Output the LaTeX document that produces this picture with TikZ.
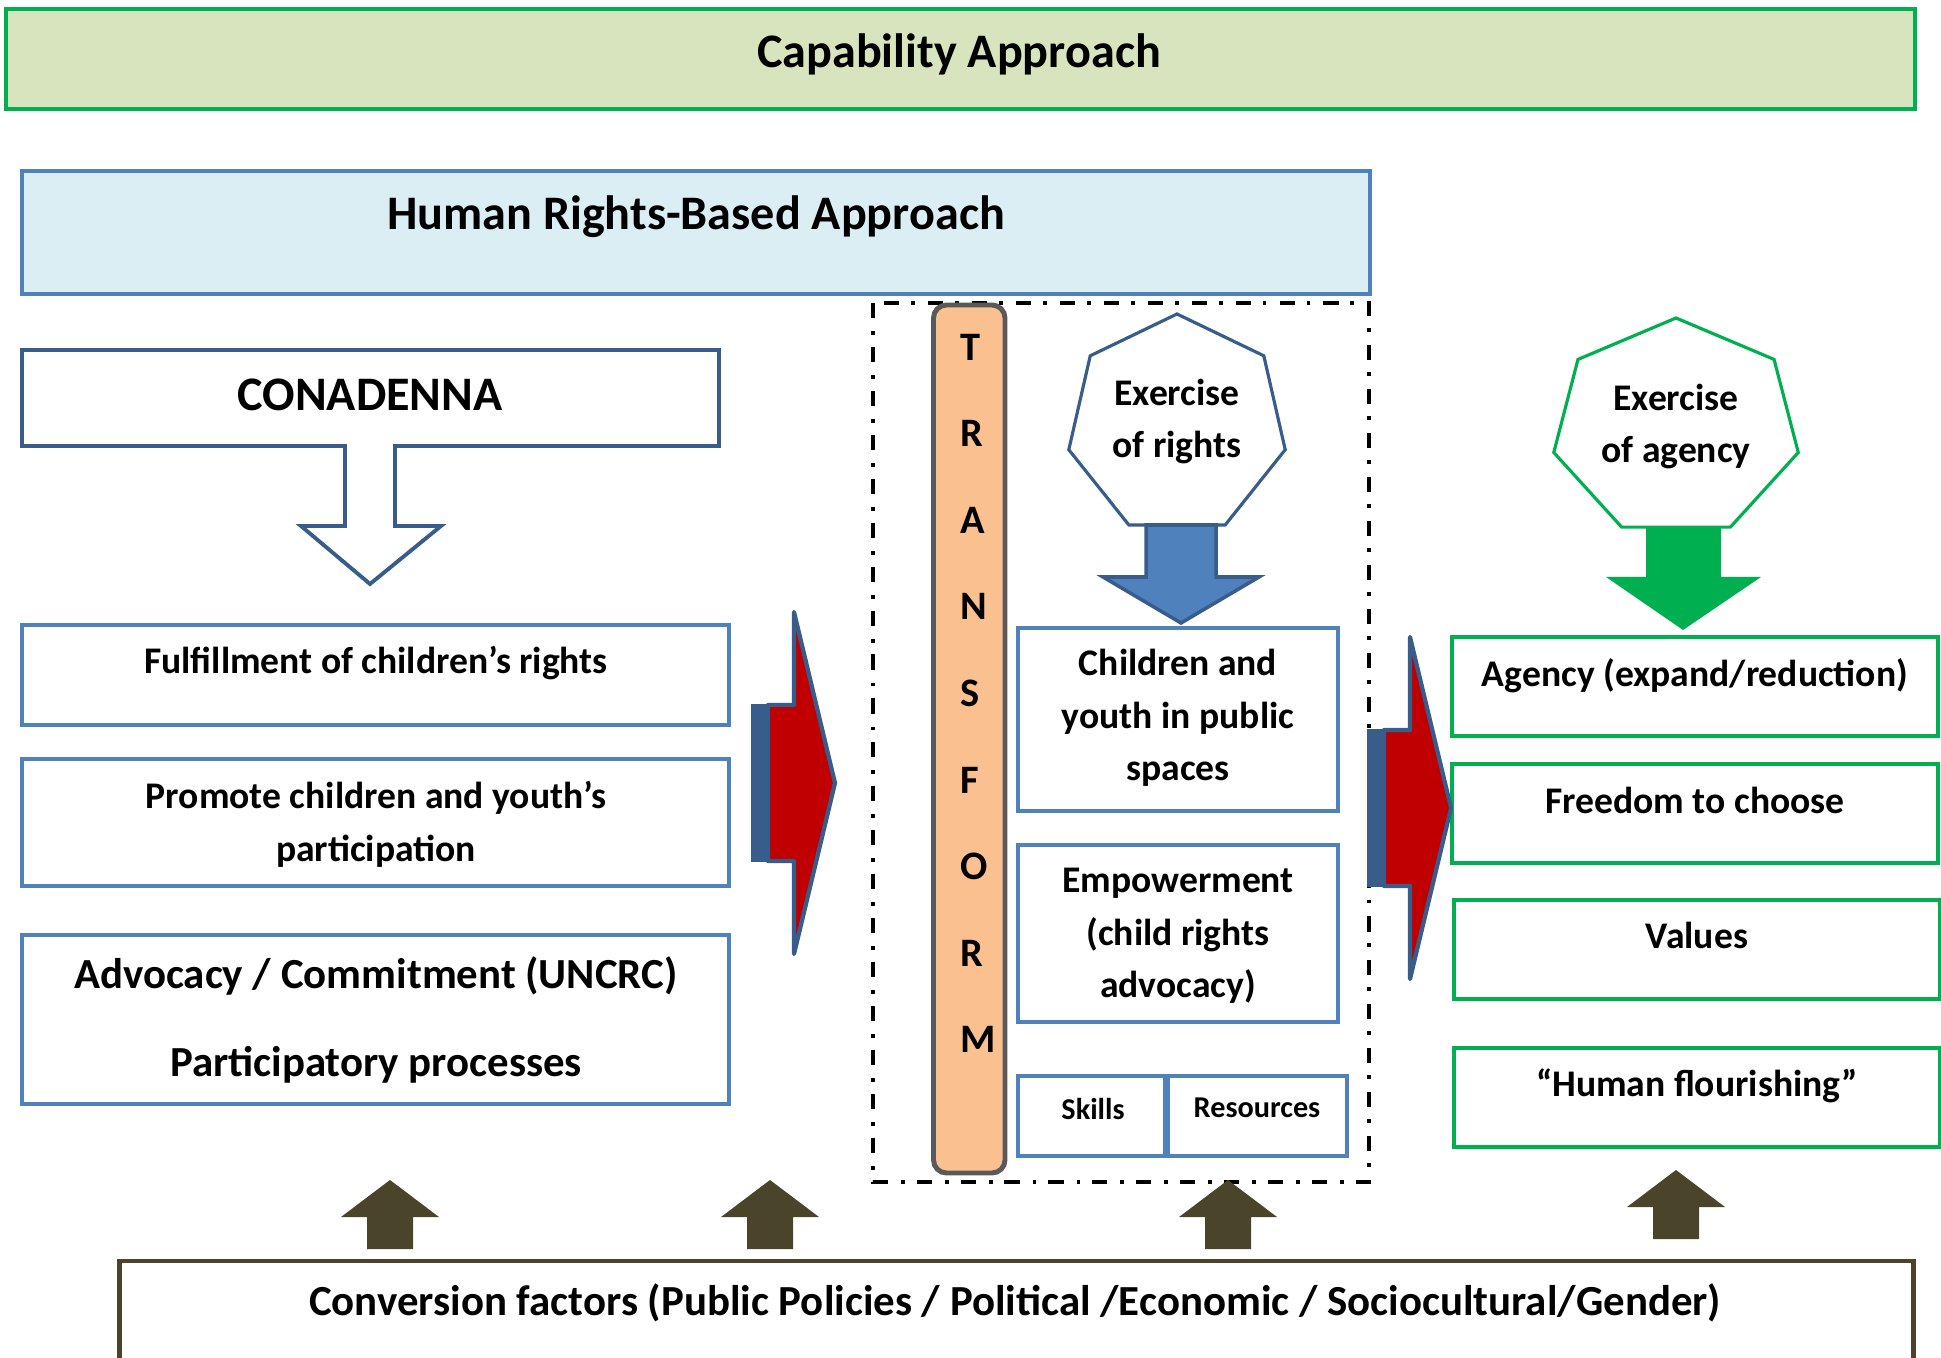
\documentclass[tikz,border=0pt]{standalone}
\usepackage{fontspec}
\setmainfont{Carlito}
\usepackage{tikz}

\definecolor{capfill}{HTML}{D7E4BD}
\definecolor{capgreen}{HTML}{00B050}
\definecolor{hrbfill}{HTML}{DBEEF4}
\definecolor{boxblue}{HTML}{4F81BD}
\definecolor{darkblue}{HTML}{385D8A}
\definecolor{arrowred}{HTML}{C00000}
\definecolor{barfill}{HTML}{FAC090}
\definecolor{bargray}{HTML}{595959}
\definecolor{factor}{HTML}{4A452A}

\begin{document}
\begin{tikzpicture}[
    box/.style={rectangle, anchor=north west, inner sep=0pt, outer sep=0pt},
    bluebox/.style={box, draw=boxblue, line width=1.1pt},
    greenbox/.style={box, draw=capgreen, line width=1.1pt, minimum width=4.86cm, minimum height=0.99cm},
    headtxt/.style={inner sep=0pt, font=\fontsize{13.7}{16}\selectfont\bfseries},
    bodytxt/.style={inner sep=0pt, align=center, font=\fontsize{10.7}{15}\selectfont\bfseries},
    smalltxt/.style={inner sep=0pt, font=\fontsize{8.6}{10}\selectfont\bfseries},
    bartxt/.style={inner sep=0pt, anchor=west, font=\fontsize{11.5}{12}\selectfont\bfseries},
    hept/.style={line width=0.9pt, fill=white},
    redarrow/.style={draw=darkblue, fill=arrowred, line width=1.2pt, line join=round},
    dashframe/.style={line width=0.95pt, dash pattern=on 4.3pt off 3.7pt on 1.1pt off 3.4pt}
]
\useasboundingbox (0,0) rectangle (19.41,-13.58);
\clip (0,0) rectangle (19.41,-13.58);

% Top bands
\node[box, draw=capgreen, fill=capfill, line width=1.25pt, minimum width=19.09cm, minimum height=1.0cm] (cap) at (0.06,-0.09) {};
\node[headtxt] (cap-t) at (9.59,-0.545) {Capability Approach};

\node[box, draw=boxblue, fill=hrbfill, line width=1.4pt, minimum width=13.48cm, minimum height=1.23cm] (hrb) at (0.22,-1.71) {};
\node[headtxt] (hrb-t) at (6.96,-2.17) {Human Rights-Based Approach};

% CONADENNA with its hollow arrow
\draw[darkblue, line width=1.1pt] (0.22,-3.50) -- (7.19,-3.50) -- (7.19,-4.46) -- (3.95,-4.46) -- (3.95,-5.26)
    -- (4.41,-5.26) -- (3.70,-5.84) -- (3.01,-5.26) -- (3.45,-5.26) -- (3.45,-4.46) -- (0.22,-4.46) -- cycle;
\node[headtxt] (con) at (3.70,-3.95) {CONADENNA};

% Left column
\node[bluebox, minimum width=7.07cm, minimum height=1.0cm] (ful) at (0.22,-6.25) {};
\node[bodytxt] (ful-t) at (3.76,-6.635) {Fulfillment of children's rights};

\node[bluebox, minimum width=7.07cm, minimum height=1.27cm] (pro) at (0.22,-7.59) {};
\node[bodytxt] (pro-t) at (3.76,-8.24) {Promote children and youth's\\participation};

\node[bluebox, minimum width=7.07cm, minimum height=1.69cm] (adv) at (0.22,-9.35) {};
\node[bodytxt, font=\fontsize{12.2}{25}\selectfont\bfseries] (adv-t) at (3.76,-10.2) {Advocacy / Commitment (UNCRC)\\Participatory processes};

% Transform frame
\draw[dashframe] (8.73,-3.03) rectangle (13.69,-11.82);
\draw[fill=barfill, draw=bargray, line width=1.4pt, rounded corners=0.13cm] (9.335,-3.05) rectangle (10.05,-11.73);
\foreach \c [count=\i] in {T,R,A,N,S,F,O,R,M}
  \node[bartxt] (tr-\i) at (9.60,{-3.47-0.866*(\i-1)}) {\c};

\begin{scope}[shift={(11.77,-4.25)}]
  \draw[hept, draw=darkblue] (90:1.11) \foreach \a in {141.43,192.86,244.29,295.71,347.14,38.57} { -- (\a:1.11) } -- cycle;
\end{scope}
\node[bodytxt] (exr) at (11.77,-4.215) {Exercise\\of rights};
\draw[darkblue, fill=boxblue, line width=1pt] (11.46,-5.25) -- (12.16,-5.25) -- (12.16,-5.77) -- (12.59,-5.77)
    -- (11.81,-6.23) -- (11.03,-5.77) -- (11.46,-5.77) -- cycle;

\node[bluebox, minimum width=3.20cm, minimum height=1.83cm] (cyp) at (10.18,-6.28) {};
\node[bodytxt] (cyp-t) at (11.78,-7.18) {Children and\\youth in public\\spaces};

\node[bluebox, minimum width=3.20cm, minimum height=1.77cm] (emp) at (10.18,-8.45) {};
\node[bodytxt] (emp-t) at (11.78,-9.36) {Empowerment\\(child rights\\advocacy)};

\node[bluebox, minimum width=1.47cm, minimum height=0.80cm] (ski) at (10.18,-10.76) {};
\node[smalltxt] (ski-t) at (10.93,-11.09) {Skills};
\node[bluebox, minimum width=1.79cm, minimum height=0.80cm] (res) at (11.68,-10.76) {};
\node[smalltxt] (res-t) at (12.57,-11.08) {Resources};

% Agency column
\begin{scope}[shift={(16.76,-4.28)}, xscale=1.14]
  \draw[hept, draw=capgreen] (90:1.10) \foreach \a in {141.43,192.86,244.29,295.71,347.14,38.57} { -- (\a:1.10) } -- cycle;
\end{scope}
\node[bodytxt] (exa) at (16.76,-4.265) {Exercise\\of agency};
\fill[capgreen] (16.46,-5.27) -- (17.21,-5.27) -- (17.21,-5.77) -- (17.61,-5.77) -- (16.83,-6.30) -- (16.06,-5.77)
    -- (16.46,-5.77) -- cycle;

\node[greenbox] (age) at (14.52,-6.37) {};
\node[bodytxt] (age-t) at (16.95,-6.755) {Agency (expand/reduction)};
\node[greenbox] (fre) at (14.52,-7.64) {};
\node[bodytxt] (fre-t) at (16.95,-8.00) {Freedom to choose};
\node[greenbox] (val) at (14.54,-9.00) {};
\node[bodytxt] (val-t) at (16.97,-9.355) {Values};
\node[greenbox] (hum) at (14.54,-10.48) {};
\node[bodytxt] (hum-t) at (16.97,-10.86) {``Human flourishing''};

% Red block arrows
\foreach \x/\y in {7.51/-7.83, 13.67/-8.08} {
  \fill[darkblue] (\x,\y+0.79) rectangle ++(0.18,-1.58);
  \draw[redarrow] (\x+0.17,\y+0.78) -- ++(0.26,0) -- ++(0,0.93) -- (\x+0.84,\y) -- (\x+0.43,\y-1.71)
      -- ++(0,0.93) -- ++(-0.26,0) -- cycle;
}

% Conversion factors
\foreach \x/\t in {3.90/11.80, 7.70/11.80, 12.28/11.80, 16.76/11.70}
  \fill[factor] (\x,-\t) -- ++(0.49,-0.37) -- ++(-0.26,0) -- ++(0,-0.32) -- ++(-0.46,0) -- ++(0,0.32)
      -- ++(-0.26,0) -- cycle;

\node[box, draw=factor, line width=1.4pt, minimum width=17.94cm, minimum height=1.3cm] (conv) at (1.195,-12.61) {};
\node[bodytxt, font=\fontsize{12.2}{15}\selectfont\bfseries] (conv-t) at (10.15,-13.025)
    {Conversion factors (Public Policies / Political /Economic / Sociocultural/Gender)};
\end{tikzpicture}
\end{document}
